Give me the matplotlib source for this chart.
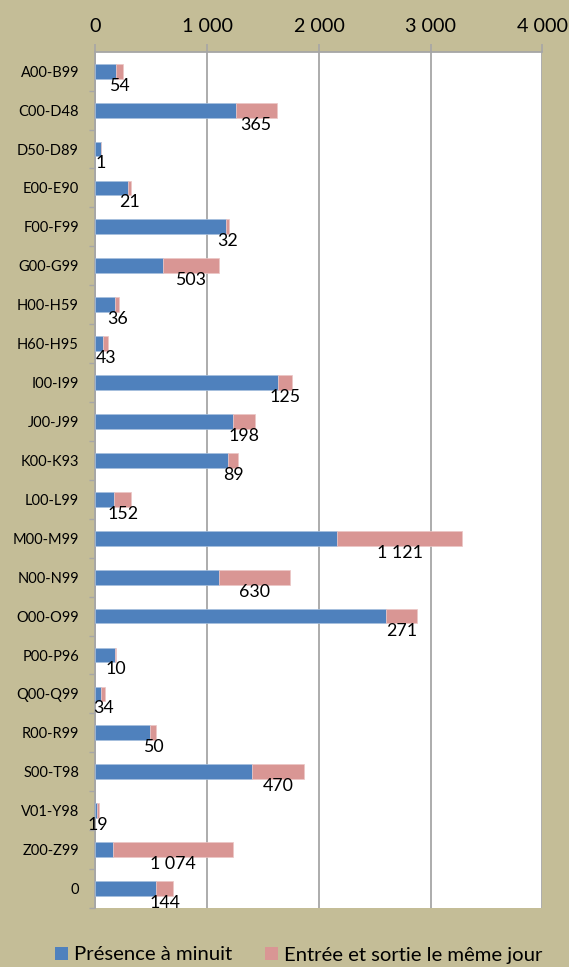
import matplotlib
matplotlib.use("Agg")
import matplotlib.pyplot as plt
from matplotlib.ticker import FuncFormatter, MultipleLocator

plt.rcParams['font.family'] = ['Lato', 'DejaVu Sans']

categories = ["A00-B99", "C00-D48", "D50-D89", "E00-E90", "F00-F99", "G00-G99",
              "H00-H59", "H60-H95", "I00-I99", "J00-J99", "K00-K93", "L00-L99",
              "M00-M99", "N00-N99", "O00-O99", "P00-P96", "Q00-Q99", "R00-R99",
              "S00-T98", "V01-Y98", "Z00-Z99", "0"]
presence_minuit = [188, 1255, 49, 293, 1166, 603, 178, 70, 1634, 1229, 1190, 169,
                   2163, 1108, 2603, 178, 52, 492, 1400, 14, 157, 546]
entree_sortie = [54, 365, 1, 21, 32, 503, 36, 43, 125, 198, 89, 152,
                 1121, 630, 271, 10, 34, 50, 470, 19, 1074, 144]
series_names = ["Présence à minuit", "Entrée et sortie le même jour"]

BLUE = "#4F81BD"
PINK = "#D99694"
BG = "#C4BD97"
GRID = "#A6A6A6"

fig = plt.figure(figsize=(5.69, 9.67), dpi=100, facecolor=BG)
ax = fig.add_axes([0.1678, 0.0610, 0.7856, 0.8855])
ax.set_facecolor("white")

y = list(range(len(categories)))
h = 0.38
ax.barh(y, presence_minuit, height=h, color=BLUE, edgecolor="#A7C0DE",
        linewidth=0.5, label=series_names[0], zorder=3)
ax.barh(y, entree_sortie, left=presence_minuit, height=h, color=PINK,
        edgecolor="#EBC6C5", linewidth=0.5, label=series_names[1], zorder=3)

def fmt(v):
    return f"{int(v):,}".replace(",", " ")

for yi, b, p in zip(y, presence_minuit, entree_sortie):
    ax.text(b + p / 2, yi + 0.37, fmt(p), ha="center", va="center",
            fontsize=12.8, color="black", zorder=4)

ax.set_xlim(0, 4000)
ax.set_ylim(len(categories) - 0.5, -0.5)
ax.xaxis.set_major_locator(MultipleLocator(1000))
ax.xaxis.set_major_formatter(FuncFormatter(lambda v, pos: fmt(v)))
ax.xaxis.tick_top()
ax.grid(axis="x", color=GRID, linewidth=1.3, zorder=1)
ax.set_axisbelow(True)

ax.set_yticks(y)
ax.set_yticklabels(categories)
ax.set_yticks([i + 0.5 for i in y], minor=True)
ax.tick_params(axis="y", which="major", length=0, pad=16.5 * 0.72, labelsize=10.5)
ax.tick_params(axis="y", which="minor", length=4.5, color=GRID, width=1, direction="out")
ax.tick_params(axis="x", which="major", length=5.5, color=GRID, width=1.2,
               labelsize=14.2, pad=6.5, direction="out")

for side in ["top", "left"]:
    ax.spines[side].set_color(GRID)
    ax.spines[side].set_linewidth(1.3)
for side in ["right", "bottom"]:
    ax.spines[side].set_visible(False)

handles, labels = ax.get_legend_handles_labels()
leg = fig.legend(handles, labels, loc="center", bbox_to_anchor=(0.525, 1 - 955 / 967),
                 ncol=2, frameon=False, fontsize=14.6, handlelength=0.65,
                 handleheight=0.65, handletextpad=0.3, columnspacing=1.6,
                 borderaxespad=0)
for hnd in leg.legend_handles:
    hnd.set_edgecolor("none")

fig.savefig("out.png", dpi=100, facecolor=BG)
